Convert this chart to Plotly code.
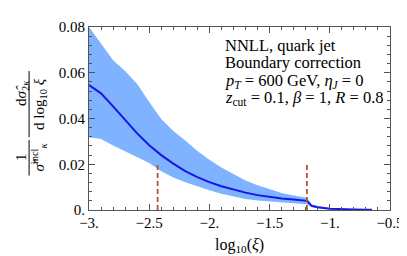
import plotly.graph_objects as go

log_xi = [-3.0, -2.9, -2.8, -2.7, -2.6, -2.5, -2.4, -2.3, -2.2, -2.1, -2.0,
          -1.9, -1.8, -1.7, -1.6, -1.5, -1.4, -1.3, -1.2, -1.19,
          -1.15, -1.1, -1.0, -0.9, -0.8, -0.7, -0.65]
central = [0.0546, 0.0510, 0.0453, 0.0393, 0.0335, 0.0283, 0.0240, 0.0203, 0.0170, 0.0144, 0.0122,
           0.0104, 0.0089, 0.0076, 0.0065, 0.0056, 0.0050, 0.0046, 0.0041, 0.0040,
           0.0018, 0.0012, 0.0006, 0.0003, 0.0002, 0.0001, 0.0001]
upper = [0.0800, 0.0725, 0.0655, 0.0608, 0.0551, 0.0472, 0.0398, 0.0345, 0.0304, 0.0258, 0.0220,
         0.0186, 0.0157, 0.0129, 0.0108, 0.0090, 0.0074, 0.0063, 0.0055, 0.0054,
         0.0025, 0.0017, 0.0009, 0.0005, 0.0003, 0.0002, 0.0001]
lower = [0.0318, 0.0310, 0.0282, 0.0256, 0.0232, 0.0206, 0.0169, 0.0142, 0.0121, 0.0102, 0.0086,
         0.0071, 0.0060, 0.0048, 0.0041, 0.0036, 0.0032, 0.0029, 0.0025, 0.0025,
         0.0012, 0.0008, 0.0004, 0.0002, 0.0001, 0.0000, 0.0000]
marker_x = [-2.43, -1.19]
marker_height = 0.02

x_tickvals = [-3.0, -2.5, -2.0, -1.5, -1.0, -0.5]
x_ticktext = ["−3.", "−2.5", "−2.", "−1.5", "−1.", "−0.5"]
y_tickvals = [0.0, 0.02, 0.04, 0.06, 0.08]
y_ticktext = ["0.", "0.02", "0.04", "0.06", "0.08"]

label_lines = [
    "NNLL, quark jet",
    "Boundary correction",
    "<i>p<sub>T</sub></i> = 600 GeV, <i>η<sub>J</sub></i> = 0",
    "<i>z</i><sub>cut</sub> = 0.1, <i>β</i> = 1, <i>R</i> = 0.8",
]

W, H = 407, 256
L, R, T, B = 81, 17, 11, 54
PW, PH = W - L - R, H - T - B
def px(x):
    return (x - L) / PW
def py(y):
    return (H - B - y) / PH

FONT = "Liberation Serif"
band_color = "#80b3ff"
line_color = "#1515e8"
dash_color = "#b4522c"
axis_color = "#555555"

fig = go.Figure()
fig.add_trace(go.Scatter(x=log_xi, y=lower, mode="lines", line=dict(width=0, color=band_color),
                         hoverinfo="skip", showlegend=False))
fig.add_trace(go.Scatter(x=log_xi, y=upper, mode="lines", line=dict(width=0, color=band_color),
                         fill="tonexty", fillcolor=band_color, hoverinfo="skip", showlegend=False))
fig.add_trace(go.Scatter(x=log_xi, y=central, mode="lines", line=dict(width=2, color=line_color),
                         showlegend=False))
for mx in marker_x:
    fig.add_trace(go.Scatter(x=[mx, mx], y=[0, marker_height], mode="lines",
                             line=dict(width=1.8, color=dash_color, dash="5px,3px"),
                             showlegend=False))

axis_common = dict(showline=True, linecolor=axis_color, linewidth=1, mirror="ticks",
                   ticks="inside", tickcolor=axis_color, showgrid=False, zeroline=False,
                   tickfont=dict(family=FONT, size=15, color="black"))
fig.update_xaxes(range=[-3, -0.5], tickvals=x_tickvals, ticktext=x_ticktext, ticklen=6,
                 ticklabelstandoff=-1,
                 minor=dict(ticks="inside", dtick=0.1, tick0=-3, ticklen=3, tickcolor=axis_color),
                 **axis_common)
fig.update_yaxes(range=[0, 0.08], tickvals=y_tickvals, ticktext=y_ticktext, ticklen=6,
                 minor=dict(ticks="inside", dtick=0.004, tick0=0, ticklen=3, tickcolor=axis_color),
                 **axis_common)

ann = []
for i, t in enumerate(label_lines):
    ann.append(dict(x=px(219), y=py(30 + 18.5 * i), xref="paper", yref="paper", text=t,
                    showarrow=False, xanchor="left", yanchor="middle",
                    font=dict(family=FONT, size=16.5, color="black")))
ann.append(dict(x=px(236), y=py(239), xref="paper", yref="paper",
                text="log<sub>10</sub>(<i>ξ</i>)", showarrow=False,
                xanchor="center", yanchor="middle",
                font=dict(family=FONT, size=16, color="black")))
yfont = dict(family=FONT, size=15, color="black")
ytitle_parts = [
    (11, 147, "1"),
    (30, 147, "<i>σ̂</i><sup>incl</sup><sub><i>κ</i></sub>"),
    (12, 80, "d<i>σ̂</i><sub>2<i>κ</i></sub>"),
    (30, 91, "d log<sub>10</sub> <i>ξ</i>"),
]
for xx, yy, t in ytitle_parts:
    ann.append(dict(x=px(xx), y=py(yy), xref="paper", yref="paper", text=t, textangle=-90,
                    xanchor="center", yanchor="middle", showarrow=False, font=yfont))
fig.update_layout(annotations=ann)

shapes = [
    dict(type="line", xref="paper", yref="paper", x0=px(19.5), x1=px(19.5), y0=py(129), y1=py(166),
         line=dict(color="black", width=1)),
    dict(type="line", xref="paper", yref="paper", x0=px(19.5), x1=px(19.5), y0=py(57), y1=py(126),
         line=dict(color="black", width=1)),
]
fig.update_layout(shapes=shapes)

fig.update_layout(width=W, height=H, margin=dict(l=L, r=R, t=T, b=B),
                  paper_bgcolor="white", plot_bgcolor="white")
fig.write_html("out.html", config={"displayModeBar": False})
